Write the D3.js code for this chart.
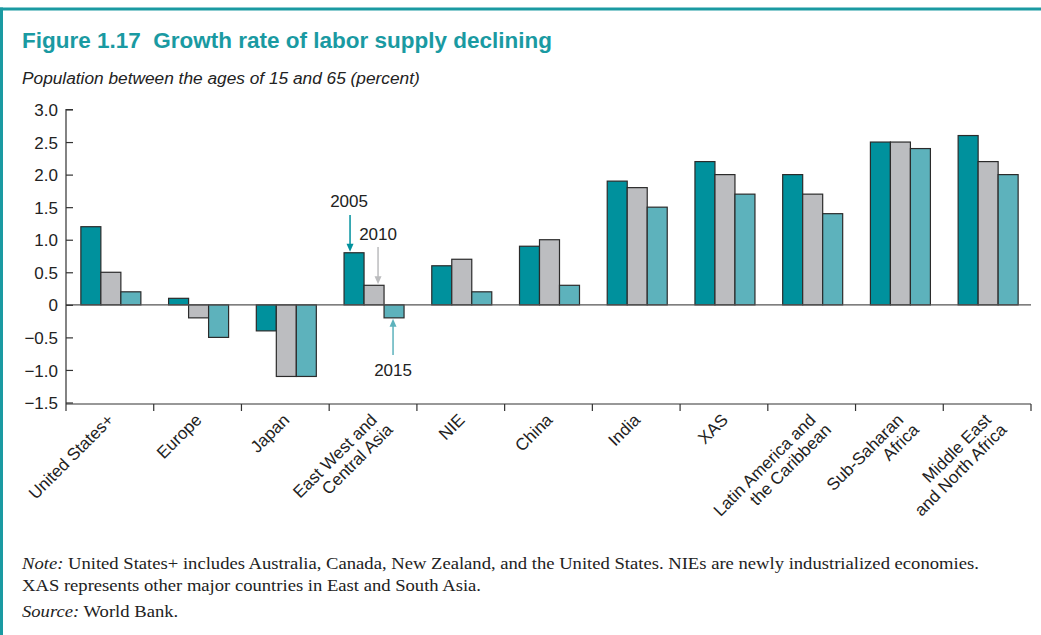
<!DOCTYPE html>
<html>
<head>
<meta charset="utf-8">
<script src="https://cdn.jsdelivr.net/npm/d3@7"></script>
<style>
  html, body { margin: 0; padding: 0; background: #fff; }
  svg { display: block; }
  text { white-space: pre; }
</style>
</head>
<body>
<svg id="chart" width="1041" height="635"></svg>
<script>
// Regions (two-line labels split with "|")
const regions = [
  "United States+", "Europe", "Japan", "East West and|Central Asia", "NIE", "China",
  "India", "XAS", "Latin America and|the Caribbean", "Sub-Saharan|Africa", "Middle East|and North Africa"
];
const years = ["2005", "2010", "2015"];
const v2005 = [1.2, 0.1, -0.4, 0.8, 0.6, 0.9, 1.9, 2.2, 2.0, 2.5, 2.6];
const v2010 = [0.5, -0.2, -1.1, 0.3, 0.7, 1.0, 1.8, 2.0, 1.7, 2.5, 2.2];
const v2015 = [0.2, -0.5, -1.1, -0.2, 0.2, 0.3, 1.5, 1.7, 1.4, 2.4, 2.0];
const yTicks = [3.0, 2.5, 2.0, 1.5, 1.0, 0.5, 0, -0.5, -1.0, -1.5];

const colors = { "2005": "#00919d", "2010": "#bcbdc0", "2015": "#5db2bc" };
const teal = "#1a9aa2";
const sans = "'Liberation Sans', Arial, sans-serif";
const serif = "'Liberation Serif', 'Times New Roman', serif";

const svg = d3.select("#chart");

// Frame
svg.append("rect").attr("x", 0).attr("y", 7.5).attr("width", 1041).attr("height", 3).attr("fill", teal);
svg.append("rect").attr("x", 0).attr("y", 7.5).attr("width", 3).attr("height", 628).attr("fill", teal);

// Title and subtitle
svg.append("text").attr("x", 22).attr("y", 48)
  .attr("font-family", sans).attr("font-weight", "bold")
  .attr("font-size", 22.5).attr("fill", "#1a9aa2")
  .text("Figure 1.17  Growth rate of labor supply declining");
svg.append("text").attr("x", 22).attr("y", 84)
  .attr("font-family", sans).attr("font-style", "italic")
  .attr("font-size", 17.3).attr("fill", "#222")
  .text("Population between the ages of 15 and 65 (percent)");

// Scales
const x0 = 66, x1 = 1031;
const x = d3.scaleBand().domain(regions).range([x0, x1]).paddingInner(0).paddingOuter(0);
const y = d3.scaleLinear().domain([-1.5, 3.0]).range([402.5, 109.5]);
const barW = 20;
const xs = d3.scaleBand().domain(years).range([0, barW * 3]);

const data = regions.map((r, i) => ({ region: r, values: [v2005[i], v2010[i], v2015[i]] }));

// Bars
const groups = svg.append("g").selectAll("g").data(data).join("g")
  .attr("transform", d => `translate(${x(d.region) + x.bandwidth() / 2 - barW * 1.5 + 1},0)`);
groups.selectAll("rect")
  .data(d => d.values.map((v, j) => ({ year: years[j], v })))
  .join("rect")
  .attr("x", d => xs(d.year))
  .attr("width", barW)
  .attr("y", d => y(Math.max(0, d.v)))
  .attr("height", d => Math.abs(y(d.v) - y(0)))
  .attr("fill", d => colors[d.year])
  .attr("stroke", "#2b2b2b").attr("stroke-width", 1.2);

// Zero line
svg.append("line").attr("x1", x0).attr("x2", x1).attr("y1", y(0)).attr("y2", y(0))
  .attr("stroke", "#555").attr("stroke-width", 1.2);

// Y axis (ticks inward)
const yAxis = svg.append("g").attr("transform", `translate(${x0},0)`)
  .call(d3.axisRight(y).tickValues(yTicks).tickSize(7).tickFormat(d => d === 0 ? "0" : d3.format(".1f")(d).replace("-", "\u2212")));
yAxis.select(".domain").attr("stroke", "#333").attr("stroke-width", 1.2).attr("d", `M7,${y(3)}H0V${y(-1.5) + 1.5}`);
yAxis.selectAll(".tick line").attr("stroke", "#333").attr("stroke-width", 1.2);
yAxis.selectAll(".tick text").attr("x", -8).attr("dy", "0.36em").attr("text-anchor", "end")
  .attr("font-family", sans).attr("font-size", 17).attr("fill", "#222");

// X axis at bottom, ticks between groups
const bottomY = y(-1.5) + 1.5;
const boundaries = regions.map(r => x(r)).concat([x1]);
svg.append("line").attr("x1", x0).attr("x2", x1).attr("y1", bottomY).attr("y2", bottomY)
  .attr("stroke", "#333").attr("stroke-width", 1.2);
svg.append("g").selectAll("line").data(boundaries).join("line")
  .attr("x1", d => d).attr("x2", d => d).attr("y1", bottomY).attr("y2", bottomY + 7)
  .attr("stroke", "#333").attr("stroke-width", 1.2);

// Rotated category labels
const labels = svg.append("g").selectAll("text").data(regions).join("text")
  .attr("transform", r => `translate(${x(r) + x.bandwidth() / 2 + 5},${bottomY + 17}) rotate(-45)`)
  .attr("text-anchor", "end")
  .attr("font-family", sans).attr("font-size", 17).attr("fill", "#222");
labels.each(function (r) {
  const parts = r.split("|");
  const t = d3.select(this);
  parts.forEach((p, k) => {
    t.append("tspan").attr("x", k * 4).attr("y", k * 18).text(p);
  });
});

// Annotations for series
const ann = svg.append("g").attr("font-family", sans).attr("font-size", 17).attr("fill", "#222");
const ewIdx = 3;
const gx = x(regions[ewIdx]) + x.bandwidth() / 2 - barW * 1.5 + 1;
function arrow(cx, ya, yb, color) {
  const dir = yb > ya ? 1 : -1;
  svg.append("line").attr("x1", cx).attr("x2", cx).attr("y1", ya).attr("y2", yb - dir * 6)
    .attr("stroke", color).attr("stroke-width", 1.5);
  svg.append("path")
    .attr("d", `M${cx - 3.5},${yb - dir * 8}L${cx + 3.5},${yb - dir * 8}L${cx},${yb}Z`)
    .attr("fill", color);
}
const c05 = gx + xs("2005") + barW / 2, c10 = gx + xs("2010") + barW / 2, c15 = gx + xs("2015") + barW / 2;
ann.append("text").attr("x", c05 - 5).attr("y", 207).attr("text-anchor", "middle").text("2005");
arrow(c05 - 4, 215, y(v2005[ewIdx]) - 1, colors["2005"]);
ann.append("text").attr("x", c10 + 4).attr("y", 240).attr("text-anchor", "middle").text("2010");
arrow(c10 + 4, 247, y(v2010[ewIdx]) - 1, "#bbbcbe");
ann.append("text").attr("x", c15 - 1).attr("y", 376).attr("text-anchor", "middle").text("2015");
arrow(c15 - 1, 355, y(v2015[ewIdx]) + 1, colors["2015"]);

// Notes: serif, squeezed horizontally to match the condensed original
const note = svg.append("g").attr("font-family", serif).attr("font-size", 16.5).attr("fill", "#222");
function noteLine(yPos, parts) {
  const t = note.append("text").attr("x", 0).attr("y", 0);
  parts.forEach(([s, it]) => t.append("tspan").attr("font-style", it ? "italic" : null).text(s));
  return t;
}
const lines = [
  [569, noteLine(0, [["Note:", true], [" United States+ includes Australia, Canada, New Zealand, and the United States. NIEs are newly industrialized economies.", false]])],
  [591, noteLine(0, [["XAS represents other major countries in East and South Asia.", false]])],
  [617, noteLine(0, [["Source:", true], [" World Bank.", false]])]
];
const squeeze = 958 / lines[0][1].node().getComputedTextLength();
lines.forEach(([yPos, t]) => t.attr("transform", `translate(22,${yPos}) scale(${squeeze},1)`));
</script>
</body>
</html>
